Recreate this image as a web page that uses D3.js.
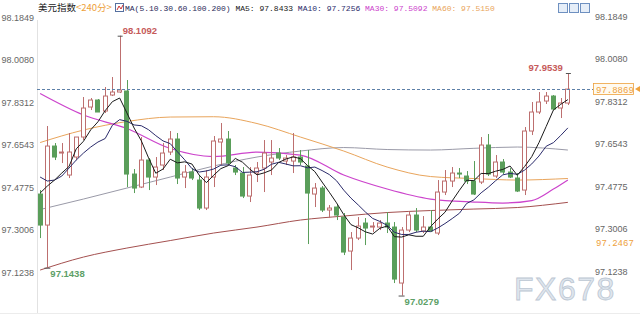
<!DOCTYPE html>
<html>
<head>
<meta charset="utf-8">
<script src="https://cdn.jsdelivr.net/npm/d3@7"></script>
<style>
  body { margin: 0; background: #fff; }
  svg { display: block; font-family: "Liberation Sans", Arial, sans-serif; }
</style>
</head>
<body>
<svg id="chart" width="640" height="320"></svg>
<script>
// 240-minute candles
const open = [97.4503, 97.3212, 97.6500, 97.6209, 97.5293, 97.6043, 97.6875, 97.8124, 97.8415, 97.7957,
  97.8623, 97.8748, 97.8790, 97.5335, 97.4794, 97.5918, 97.5210, 97.5710, 97.6251, 97.6792,
  97.5210, 97.5418, 97.5085, 97.3920, 97.5210, 97.6667, 97.6792, 97.5585, 97.5377, 97.4419,
  97.5377, 97.5585, 97.5835, 97.6209, 97.5876, 97.5876, 97.6043, 97.5668, 97.4503, 97.4752,
  97.3837, 97.3962, 97.3545, 97.2130, 97.2671, 97.3296, 97.3129, 97.3129, 97.3296, 97.3129,
  97.0799, 97.3004, 97.3629, 97.2963, 97.3129, 97.2880, 97.4586, 97.5044, 97.5377, 97.5252,
  97.5044, 97.5002, 97.6542, 97.5252, 97.5835, 97.5418, 97.5169, 97.4669, 97.7125, 97.7916,
  97.8373, 97.8581, 97.8082, 97.8290];
const high = [97.4669, 97.7333, 97.6625, 97.6625, 97.7042, 97.6334, 97.8540, 97.8498, 97.8457, 97.8956,
  97.9372, 98.1092, 97.9247, 97.5543, 97.6875, 97.6001, 97.6043, 97.6625, 97.7125, 97.7042,
  97.5710, 97.5585, 97.5293, 97.5502, 97.6917, 97.7458, 97.7125, 97.5710, 97.5626, 97.5626,
  97.5835, 97.6750, 97.6750, 97.6417, 97.6126, 97.7042, 97.6334, 97.6334, 97.4961, 97.4836,
  97.4045, 97.4087, 97.3712, 97.2921, 97.3545, 97.3504, 97.3337, 97.3421, 97.3754, 97.3337,
  97.3129, 97.3754, 97.3920, 97.3587, 97.3837, 97.5085, 97.5502, 97.5626, 97.5585, 97.5460,
  97.5876, 97.6875, 97.7000, 97.6126, 97.5959, 97.5585, 97.5377, 97.7291, 97.8332, 97.8748,
  97.8748, 97.8623, 97.8498, 97.9539];
const low = [97.2671, 97.1438, 97.5918, 97.5793, 97.5169, 97.5918, 97.6750, 97.7999, 97.7916, 97.7874,
  97.8581, 97.8706, 97.4794, 97.4544, 97.4752, 97.4669, 97.4877, 97.5502, 97.6126, 97.4919,
  97.4752, 97.5085, 97.3837, 97.3837, 97.4794, 97.5710, 97.5710, 97.5293, 97.4336, 97.4170,
  97.5002, 97.4586, 97.5293, 97.5918, 97.5710, 97.5377, 97.5710, 97.2422, 97.3962, 97.3754,
  97.3504, 97.3421, 97.1964, 97.1340, 97.2588, 97.2380, 97.2921, 97.3004, 97.2880, 97.0799,
  97.0279, 97.2921, 97.2921, 97.2880, 97.2921, 97.2796, 97.4461, 97.4794, 97.5169, 97.4919,
  97.4461, 97.4919, 97.5252, 97.5169, 97.5335, 97.5169, 97.4586, 97.4461, 97.6958, 97.7832,
  97.8249, 97.7999, 97.7666, 97.8207];
const close = [97.3212, 97.6500, 97.6043, 97.6251, 97.6251, 97.6875, 97.8082, 97.8415, 97.7916, 97.8581,
  97.8748, 97.8831, 97.5335, 97.4752, 97.5918, 97.5210, 97.5626, 97.6209, 97.6792, 97.5169,
  97.5418, 97.5169, 97.3920, 97.5210, 97.6709, 97.6792, 97.5793, 97.5418, 97.4419, 97.5293,
  97.5585, 97.6209, 97.6001, 97.6001, 97.6001, 97.6043, 97.5835, 97.4544, 97.4752, 97.3837,
  97.3920, 97.3629, 97.2089, 97.2671, 97.3171, 97.3088, 97.3171, 97.3296, 97.3129, 97.0965,
  97.3004, 97.3629, 97.3004, 97.3129, 97.2963, 97.4586, 97.5044, 97.5377, 97.5335, 97.5044,
  97.4503, 97.6542, 97.5335, 97.5835, 97.5418, 97.5210, 97.4628, 97.7125, 97.7916, 97.8332,
  97.8581, 97.8040, 97.8290, 97.8869];

// moving averages, one value per candle
const ma5 = [97.4544, 97.4836, 97.5085, 97.5377, 97.5651, 97.6384, 97.6700, 97.7175, 97.7508, 97.7974,
  97.8348, 97.8498, 97.7882, 97.7250, 97.6717, 97.6009, 97.5368, 97.5543, 97.5951, 97.5801,
  97.5843, 97.5751, 97.5293, 97.4977, 97.5285, 97.5560, 97.5685, 97.5984, 97.5826, 97.5543,
  97.5302, 97.5385, 97.5502, 97.5818, 97.5959, 97.6051, 97.5976, 97.5685, 97.5435, 97.5002,
  97.4578, 97.4137, 97.3645, 97.3229, 97.3096, 97.2929, 97.2838, 97.3079, 97.3171, 97.2730,
  97.2713, 97.2805, 97.2746, 97.2746, 97.3146, 97.3462, 97.3745, 97.4220, 97.4661, 97.5077,
  97.5061, 97.5360, 97.5352, 97.5452, 97.5527, 97.5668, 97.5285, 97.5643, 97.6059, 97.6642,
  97.7316, 97.7999, 97.8232, 97.8433];
const ma10 = [97.5210, 97.5044, 97.5085, 97.5252, 97.5585, 97.5918, 97.6209, 97.6459, 97.6667, 97.6813,
  97.7366, 97.7599, 97.7529, 97.7379, 97.7345, 97.7179, 97.6933, 97.6713, 97.6600, 97.6259,
  97.5926, 97.5560, 97.5418, 97.5464, 97.5543, 97.5701, 97.5718, 97.5639, 97.5402, 97.5414,
  97.5431, 97.5535, 97.5743, 97.5822, 97.5751, 97.5676, 97.5681, 97.5593, 97.5626, 97.5481,
  97.5314, 97.5056, 97.4665, 97.4332, 97.4049, 97.3754, 97.3487, 97.3362, 97.3200, 97.2913,
  97.2821, 97.2821, 97.2913, 97.2959, 97.2938, 97.3088, 97.3275, 97.3483, 97.3704, 97.4111,
  97.4261, 97.4553, 97.4786, 97.5056, 97.5302, 97.5364, 97.5323, 97.5497, 97.5756, 97.6084,
  97.6492, 97.6642, 97.6937, 97.7256];

// slow moving averages, read at selected candles
const slowIdx = [0, 6, 12, 18, 24, 30, 36, 42, 48, 54, 60, 66, 73];
const ma30Idx = [0, 6, 12, 18, 24, 30, 36, 42, 48, 54, 60, 64, 68, 71, 73];
const ma30 = [97.8686, 97.7791, 97.7229, 97.6396, 97.6063, 97.6251, 97.6126, 97.5293, 97.4711, 97.4295,
  97.4170, 97.4128, 97.4232, 97.4711, 97.5092];
const ma60 = [97.6646, 97.7166, 97.7520, 97.7707, 97.7720, 97.7437, 97.6875, 97.6292, 97.5626, 97.5231,
  97.5148, 97.5085, 97.5150];
const ma100 = [97.3858, 97.4295, 97.4752, 97.5210, 97.5668, 97.6043, 97.6292, 97.6438, 97.6355, 97.6334,
  97.6405, 97.6459, 97.6334];
const ma200 = [97.1340, 97.1881, 97.2255, 97.2567, 97.2880, 97.3129, 97.3421, 97.3587, 97.3733, 97.3816,
  97.3878, 97.3941, 97.4157];

const yTicks = [98.1849, 98.0080, 97.8312, 97.6543, 97.4775, 97.3006, 97.1238];
const titleName = '美元指数';
const periodName = '<240分>';
const maParams = 'MA(5.10.30.60.100.200)';
const legendNames = ['MA5', 'MA10', 'MA30', 'MA60'];
const legendValues = [97.8433, 97.7256, 97.5092, 97.5150];
const lastPrice = 97.8869;
const refLevel = 97.2467;
const markHighIdx = [11, 73];
const markLowIdx = [1, 50];

const colors = {
  up: '#bd6f6f', down: '#5a9e5a', ma5: '#1a1a1a', ma10: '#2b2b6b', ma30: '#cc44cc',
  ma60: '#e9a55c', ma100: '#9a9aa8', ma200: '#a4504f', axis: '#666', orange: '#eea13c'
};

const svg = d3.select('#chart');
const fmt = d3.format('.4f');

const x = d3.scaleBand()
  .domain(d3.range(close.length))
  .range([36.5, 571.5])
  .paddingInner(0.3)
  .paddingOuter(0.15);
const xc = i => x(i) + x.bandwidth() / 2;
const y = d3.scaleLinear().domain([97.1238, 98.1849]).range([272.5, 17.5]);

// watermark (behind everything)
svg.append('text').attr('x', 514).attr('y', 300)
  .attr('fill', '#dfe6ee').attr('stroke', '#bcc7d3').attr('stroke-width', 0.8)
  .style('font-size', '32px').style('letter-spacing', '1.5px')
  .text('FX678');

// frame
svg.append('line').attr('x1', 37.5).attr('x2', 37.5).attr('y1', 20).attr('y2', 313)
  .attr('stroke', '#e2e2e2');
svg.append('line').attr('x1', 0).attr('x2', 640).attr('y1', 313.5).attr('y2', 313.5)
  .attr('stroke', '#ececec');

// axes
const leftAxis = svg.append('g').attr('transform', 'translate(34,0)')
  .call(d3.axisLeft(y).tickValues(yTicks).tickSize(0).tickPadding(0).tickFormat(fmt));
const rightAxis = svg.append('g').attr('transform', 'translate(595,0)')
  .call(d3.axisRight(y).tickValues(yTicks).tickSize(0).tickPadding(0).tickFormat(fmt));
[leftAxis, rightAxis].forEach(g => {
  g.select('.domain').remove();
  g.selectAll('text').attr('fill', colors.axis).style('font-size', '9px')
    .style('font-family', '"Liberation Sans", Arial, sans-serif');
});
rightAxis.selectAll('text').attr('dy', '0.2em');

const plot = svg.append('g');

// moving average lines
const fastLine = d3.line().x((d, i) => xc(i)).y(d => y(d));
const slowLine = d3.line().x(d => xc(d[0])).y(d => y(d[1])).curve(d3.curveMonotoneX);

plot.append('path').datum(d3.zip(slowIdx, ma200)).attr('d', slowLine)
  .attr('fill', 'none').attr('stroke', colors.ma200).attr('stroke-width', 1);
plot.append('path').datum(d3.zip(slowIdx, ma100)).attr('d', slowLine)
  .attr('fill', 'none').attr('stroke', colors.ma100).attr('stroke-width', 1);
plot.append('path').datum(d3.zip(slowIdx, ma60)).attr('d', slowLine)
  .attr('fill', 'none').attr('stroke', colors.ma60).attr('stroke-width', 1);
plot.append('path').datum(d3.zip(ma30Idx, ma30)).attr('d', slowLine)
  .attr('fill', 'none').attr('stroke', colors.ma30).attr('stroke-width', 1.2);

// candles
const candles = plot.append('g').selectAll('g')
  .data(d3.range(close.length))
  .enter().append('g');

candles.append('line')
  .attr('x1', i => Math.round(xc(i)) + 0.5)
  .attr('x2', i => Math.round(xc(i)) + 0.5)
  .attr('y1', i => y(high[i]))
  .attr('y2', i => y(low[i]))
  .attr('stroke', i => close[i] >= open[i] ? colors.up : colors.down);

candles.append('rect')
  .attr('x', i => Math.round(x(i)) + 0.5)
  .attr('width', Math.round(x.bandwidth()) - 1)
  .attr('y', i => y(Math.max(open[i], close[i])))
  .attr('height', i => Math.max(1, y(Math.min(open[i], close[i])) - y(Math.max(open[i], close[i]))))
  .attr('fill', i => close[i] >= open[i] ? '#fff' : colors.down)
  .attr('stroke', i => close[i] >= open[i] ? colors.up : colors.down);

plot.append('path').datum(ma10).attr('d', fastLine)
  .attr('fill', 'none').attr('stroke', colors.ma10).attr('stroke-width', 1);
plot.append('path').datum(ma5).attr('d', fastLine)
  .attr('fill', 'none').attr('stroke', colors.ma5).attr('stroke-width', 1);

// last price line
svg.append('line')
  .attr('x1', 37).attr('x2', 593)
  .attr('y1', Math.round(y(lastPrice)) + 0.5).attr('y2', Math.round(y(lastPrice)) + 0.5)
  .attr('stroke', '#5d80a8').attr('stroke-dasharray', '3,2');
svg.append('rect')
  .attr('x', 593.5).attr('y', Math.round(y(lastPrice)) - 5.5)
  .attr('width', 40).attr('height', 11)
  .attr('fill', '#fffaf0').attr('stroke', colors.orange).attr('stroke-width', 0.8);
svg.append('text')
  .attr('x', 596).attr('y', y(lastPrice) + 3.5)
  .attr('fill', colors.orange).style('font-size', '9px')
  .style('font-family', '"Liberation Mono", monospace')
  .text(fmt(lastPrice));
svg.append('path')
  .attr('d', `M635,${y(lastPrice)} l5,-3 v6 z`)
  .attr('fill', colors.orange);
svg.append('text')
  .attr('x', 596).attr('y', y(refLevel) + 3)
  .attr('fill', colors.orange).style('font-size', '9px')
  .style('font-family', '"Liberation Mono", monospace')
  .text(fmt(refLevel));

// extreme value labels
markHighIdx.forEach((i, k) => {
  const xx = xc(i), yy = y(high[i]);
  svg.append('line').attr('x1', xx - 2).attr('x2', xx + 3).attr('y1', yy + 0.5).attr('y2', yy + 0.5)
    .attr('stroke', '#555');
  svg.append('text')
    .attr('x', k === 0 ? xx + 3 : xx - 5)
    .attr('y', yy - 2)
    .attr('text-anchor', k === 0 ? 'start' : 'end')
    .attr('fill', '#c65a5a').style('font-size', '9.5px').style('font-weight', 'bold')
    .text(fmt(high[i]));
});
markLowIdx.forEach(i => {
  const xx = xc(i), yy = y(low[i]);
  svg.append('line').attr('x1', xx - 3).attr('x2', xx + 3).attr('y1', yy + 0.5).attr('y2', yy + 0.5)
    .attr('stroke', '#555');
  svg.append('text')
    .attr('x', xx + 3)
    .attr('y', yy + 9)
    .attr('fill', '#5d9f67').style('font-size', '9.5px').style('font-weight', 'bold')
    .text(fmt(low[i]));
});

// header
const head = svg.append('text').attr('x', 38).attr('y', 11)
  .style('font-size', '9.5px').style('font-family', '"Noto Sans CJK SC", sans-serif');
head.append('tspan').attr('fill', '#222').text(titleName);
head.append('tspan').attr('fill', colors.orange).text(periodName);

svg.append('rect').attr('x', 115.5).attr('y', 3.5).attr('width', 8).attr('height', 8)
  .attr('fill', '#fff').attr('stroke', '#5570a0');
svg.append('path').attr('d', 'M117,10 L119,6 L121,9 L123,5').attr('fill', 'none').attr('stroke', '#cc3333');

const legendColors = [colors.ma5, colors.ma10, colors.ma30, colors.ma60];
const leg = svg.append('text').attr('x', 125).attr('y', 11)
  .style('font-size', '8px').style('font-family', '"Liberation Mono", monospace');
leg.append('tspan').attr('fill', '#2a2a5a').text(maParams + ' ');
legendNames.forEach((n, k) => {
  leg.append('tspan').attr('fill', legendColors[k]).text(n + ': ' + fmt(legendValues[k]) + ' ');
});

// toolbar icons
d3.range(3).forEach(k => {
  svg.append('rect').attr('x', 558.5 + k * 11).attr('y', 3.5).attr('width', 9).attr('height', 9)
    .attr('fill', '#e6eef8').attr('stroke', '#6e90c0');
});
</script>
</body>
</html>
